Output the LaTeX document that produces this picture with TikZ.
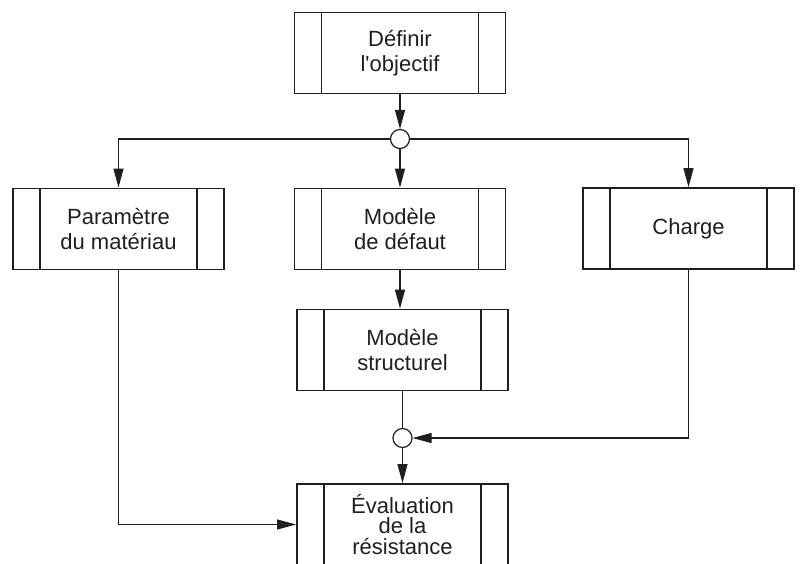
\documentclass[tikz,border=0pt]{standalone}
\usepackage{fontspec}
\setmainfont{Liberation Sans}
\usetikzlibrary{arrows.meta}
\begin{document}
\begin{tikzpicture}[x=1pt,y=-1pt,
  proc/.style={draw=black!88, line width=1.9pt, minimum width=211pt, minimum height=81pt,
    inner sep=0pt, align=center, font=\fontsize{22}{24.5}\selectfont, text=black!88,
    path picture={
      \draw[line width=1.8pt,black!88] ([xshift=27pt]path picture bounding box.north west) -- ([xshift=27pt]path picture bounding box.south west);
      \draw[line width=1.8pt,black!88] ([xshift=-27pt]path picture bounding box.north east) -- ([xshift=-27pt]path picture bounding box.south east);}},
  junc/.style={circle, draw=black!88, line width=1.2pt, minimum size=19pt, inner sep=0pt, fill=white},
  wire/.style={line width=1.1pt, draw=black!88},
  conn/.style={wire, -{Triangle[length=19pt,width=10pt]}}
]
\useasboundingbox (0,0) rectangle (805,563);
\clip (0,0) rectangle (805,563);

\node[proc] (obj) at (400,53) {Définir\\l\textquotesingle objectif};
\node[junc] (j1) at (400,139) {};
\node[proc] (mat) at (118.5,229) {Paramètre\\du matériau};
\node[proc] (def) at (400,229) {Modèle\\de défaut};
\node[proc] (chg) at (688.5,228.5) {Charge};
\node[proc] (str) at (402.5,350) {Modèle\\structurel};
\node[junc] (j2) at (402.5,438) {};
\node[proc, font=\fontsize{22}{20.7}\selectfont] (eva) at (402.5,524.5) {Évaluation\\de la\\résistance};

\draw[conn] (obj) -- (j1);
\draw[conn] (j1) -- (def);
\draw[conn] (j1.west) -| (mat.north);
\draw[conn] (j1.east) -| (chg.north);
\draw[conn] (def.south) -- (def.south |- str.north);
\draw[wire] (str) -- (j2);
\draw[conn] (j2) -- (eva);
\draw[conn] (chg.south) |- (j2.east);
\draw[conn] (mat.south) |- (eva.west);
\end{tikzpicture}
\end{document}
